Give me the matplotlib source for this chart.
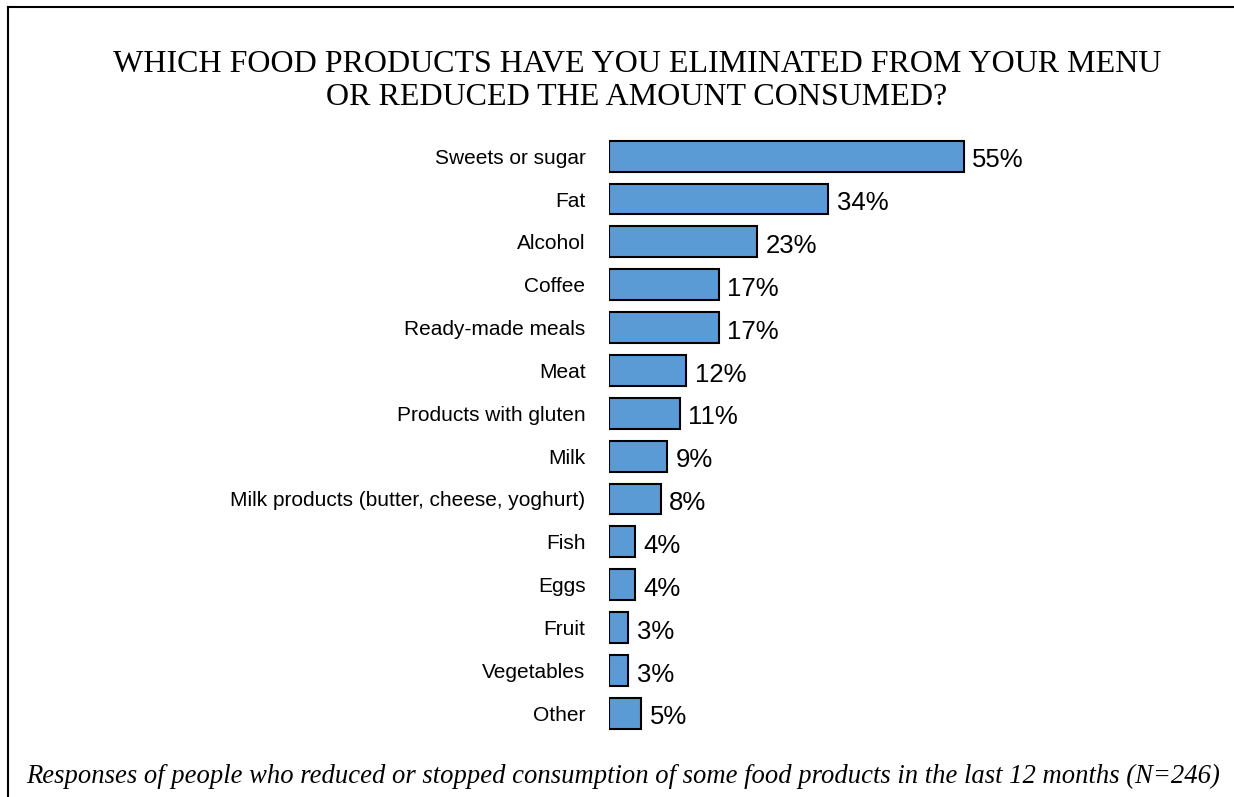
import matplotlib
matplotlib.use("Agg")
import matplotlib.pyplot as plt
from matplotlib.lines import Line2D

categories = ["Sweets or sugar", "Fat", "Alcohol", "Coffee", "Ready-made meals", "Meat",
              "Products with gluten", "Milk", "Milk products (butter, cheese, yoghurt)",
              "Fish", "Eggs", "Fruit", "Vegetables", "Other"]
values = [55, 34, 23, 17, 17, 12, 11, 9, 8, 4, 4, 3, 3, 5]

title = "WHICH FOOD PRODUCTS HAVE YOU ELIMINATED FROM YOUR MENU\nOR REDUCED THE AMOUNT CONSUMED?"
footnote = "Responses of people who reduced or stopped consumption of some food products in the last 12 months (N=246)"

W, H, DPI = 1234, 797, 100
fig = plt.figure(figsize=(W / DPI, H / DPI), dpi=DPI)

# axes in pixel coordinates
ax_left, ax_right = 609, 609 + 60 * 6.45
ax_top, ax_bottom = 134.8, 734.6
ax = fig.add_axes([ax_left / W, 1 - ax_bottom / H, (ax_right - ax_left) / W, (ax_bottom - ax_top) / H])

y = list(range(len(categories)))
ax.barh(y, values, height=0.72, color="#5B9BD5", edgecolor="black", linewidth=1.5)
ax.set_xlim(0, 60)
ax.set_ylim(len(categories) - 0.5, -0.5)
ax.set_yticks(y)
ax.set_yticklabels(categories, fontsize=15, fontfamily="Liberation Sans")
ax.tick_params(axis="y", length=0, pad=17)
ax.set_xticks([])
for s in ax.spines.values():
    s.set_visible(False)

for yi, v in zip(y, values):
    ax.annotate(f"{v}%", (v, yi), xytext=(6, -3), textcoords="offset points",
                ha="left", va="center", fontsize=18.5, fontfamily="Liberation Sans")

fig.text(637 / W, 1 - 81 / H, title, ha="center", va="center", fontsize=23,
         fontfamily="Liberation Serif", linespacing=1.2)
fig.text(8 / W + (W - 8) / W / 2 + 0.002, 1 - 776 / H, footnote, ha="center", va="center", fontsize=19.2,
         fontfamily="Liberation Serif", style="italic")

# border (left and top visible)
fig.add_artist(Line2D([8 / W, 8 / W], [0, 1 - 7 / H], color="black", linewidth=1.5, transform=fig.transFigure))
fig.add_artist(Line2D([8 / W, 1], [1 - 7 / H, 1 - 7 / H], color="black", linewidth=1.5, transform=fig.transFigure))

fig.savefig("out.png", dpi=DPI)
